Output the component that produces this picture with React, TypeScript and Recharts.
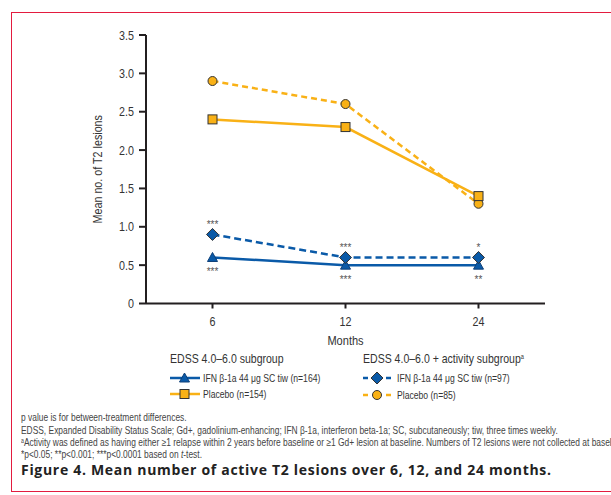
import React from "react";
import { LineChart, Line, XAxis, YAxis, LabelList, Label } from "recharts";

// ---- data ----
const months = ["6", "12", "24"];
const ifn164 = [0.6, 0.5, 0.5];
const placebo154 = [2.4, 2.3, 1.4];
const ifn97 = [0.9, 0.6, 0.6];
const placebo85 = [2.9, 2.6, 1.3];
const sigAbove = ["***", "***", "*"]; // above IFN (n=97)
const sigBelow = ["***", "***", "**"]; // below IFN (n=164)
const yTicks = [0, 0.5, 1, 1.5, 2, 2.5, 3, 3.5];

const data = months.map((m, i) => ({
  month: m,
  ifn164: ifn164[i],
  placebo154: placebo154[i],
  ifn97: ifn97[i],
  placebo85: placebo85[i],
  sigAbove: sigAbove[i],
  sigBelow: sigBelow[i],
}));

const ORANGE = "#f9b116";
const BLUE = "#0a5aa8";
const DARK = "#231f20";
const MSTROKE = "#333333";
const SANS = "'Liberation Sans', Arial, sans-serif";
const SQ = 0.82; // horizontal squeeze to mimic a condensed face

type Shape = "triangle" | "square" | "diamond" | "circle";

function Marker({ cx, cy, shape, color }: { cx: number; cy: number; shape: Shape; color: string }) {
  if (shape === "triangle") {
    return (
      <path
        d={`M${cx},${cy - 5} L${cx + 5},${cy + 4} L${cx - 5},${cy + 4} Z`}
        fill={color}
        stroke="#0d3f78"
        strokeWidth={1}
      />
    );
  }
  if (shape === "square") {
    return <rect x={cx - 4.5} y={cy - 4.5} width={9} height={9} fill={color} stroke={MSTROKE} strokeWidth={1} />;
  }
  if (shape === "diamond") {
    return (
      <path
        d={`M${cx},${cy - 6} L${cx + 6},${cy} L${cx},${cy + 6} L${cx - 6},${cy} Z`}
        fill={color}
        stroke={MSTROKE}
        strokeWidth={1}
      />
    );
  }
  return <circle cx={cx} cy={cy} r={4.5} fill={color} stroke={MSTROKE} strokeWidth={1} />;
}

const dotFor = (shape: Shape, color: string) => (props: any) => (
  <Marker key={`${shape}-${props.index}`} cx={props.cx} cy={props.cy} shape={shape} color={color} />
);

const sigLabel = (dir: "above" | "below") => (props: any) => {
  const { x, y, value, index } = props;
  if (value == null) return null;
  const yy = dir === "above" ? y - 12 + 6 : y + 12 + 6;
  return (
    <text key={`${dir}-${index}`} x={x} y={yy} textAnchor="middle" fontSize={10} fill="#555" fontFamily={SANS}>
      {value}
    </text>
  );
};

const YTick = (props: any) => {
  const { x, y, payload } = props;
  const v = payload.value as number;
  return (
    <g transform={`translate(${x},${y}) scale(${0.86},1)`}>
      <text x={0} y={0} dy="0.36em" textAnchor="end" fontSize={12.5} fill="#333" fontFamily={SANS}>
        {v === 0 ? "0" : v.toFixed(1)}
      </text>
    </g>
  );
};

const XTick = (props: any) => {
  const { x, y, payload } = props;
  return (
    <g transform={`translate(${x},${y}) scale(${0.86},1)`}>
      <text x={0} y={0} dy="0.71em" textAnchor="middle" fontSize={12.5} fill="#333" fontFamily={SANS}>
        {payload.value}
      </text>
    </g>
  );
};

function LegendIcon({ color, dashed, shape }: { color: string; dashed: boolean; shape: Shape }) {
  return (
    <svg width={30} height={14} style={{ position: "absolute", left: 0, top: 0, overflow: "visible" }}>
      {dashed ? (
        <>
          <line x1={0} y1={7} x2={5} y2={7} stroke={color} strokeWidth={2.5} />
          <line x1={23} y1={7} x2={28} y2={7} stroke={color} strokeWidth={2.5} />
        </>
      ) : (
        <line x1={0} y1={7} x2={30} y2={7} stroke={color} strokeWidth={2.5} />
      )}
      <Marker cx={dashed ? 14 : 14.5} cy={7} shape={shape} color={color} />
    </svg>
  );
}

function LegendRow({ left, top, color, dashed, shape, text, textOffset }: any) {
  return (
    <div style={{ position: "absolute", left, top }}>
      <LegendIcon color={color} dashed={dashed} shape={shape} />
      <div
        style={{
          position: "absolute",
          left: textOffset,
          top: 0,
          height: 14,
          lineHeight: "14px",
          whiteSpace: "nowrap",
          fontFamily: SANS,
          fontSize: 10.5,
          color: "#333",
          transform: `scaleX(${SQ})`,
          transformOrigin: "left center",
        }}
      >
        {text}
      </div>
    </div>
  );
}

const headerStyle: React.CSSProperties = {
  position: "absolute",
  whiteSpace: "nowrap",
  fontFamily: SANS,
  fontSize: 13,
  color: "#333",
  lineHeight: "16px",
  transform: "scaleX(0.81)",
  transformOrigin: "left center",
};

const noteStyle: React.CSSProperties = {
  position: "absolute",
  left: 21,
  whiteSpace: "nowrap",
  fontFamily: SANS,
  fontSize: 10.5,
  color: "#444",
  lineHeight: "12px",
  transform: "scaleX(0.80)",
  transformOrigin: "left center",
};

const supA = (size: number, lift: number) => (
  <span style={{ fontSize: size, position: "relative", top: -lift, lineHeight: 0 }}>a</span>
);

export default function App() {
  return (
    <div
      style={{
        position: "absolute",
        left: 0,
        top: 0,
        width: 611,
        height: 495,
        overflow: "hidden",
        background: "#fff",
      }}
    >
      <div
        style={{
          position: "absolute",
          left: 11,
          top: 12,
          width: 640,
          height: 478,
          border: "1.5px solid #e31b3f",
        }}
      />
      <div style={{ position: "absolute", left: 0, top: 0 }}>
        <LineChart
          width={611}
          height={360}
          data={data}
          margin={{ top: 35, right: 66, bottom: 6.5, left: 86 }}
        >
          <XAxis
            dataKey="month"
            height={50}
            padding={{ left: 66.5, right: 66.5 }}
            axisLine={{ stroke: DARK, strokeWidth: 2 }}
            tickLine={{ stroke: DARK, strokeWidth: 2 }}
            tickSize={5}
            tickMargin={9}
            tick={XTick}
          >
            <Label
              content={(p: any) => {
                const vb = p.viewBox;
                const cx = vb.x + vb.width / 2;
                const cy = vb.y + 41;
                return (
                  <g transform={`translate(${cx},${cy}) scale(0.85,1)`}>
                    <text x={0} y={0} textAnchor="middle" fontSize={13} fill="#333" fontFamily={SANS}>
                      Months
                    </text>
                  </g>
                );
              }}
            />
          </XAxis>
          <YAxis
            width={60}
            domain={[0, 3.5]}
            ticks={yTicks}
            interval={0}
            axisLine={{ stroke: DARK, strokeWidth: 2 }}
            tickLine={{ stroke: DARK, strokeWidth: 2 }}
            tickSize={7}
            tickMargin={5}
            tick={YTick}
          >
            <Label
              content={(p: any) => {
                const vb = p.viewBox;
                const cx = vb.x + 11;
                const cy = vb.y + vb.height / 2;
                return (
                  <g transform={`translate(${cx},${cy}) rotate(-90) scale(0.86,1)`}>
                    <text
                      x={0}
                      y={0}
                      dy="0.36em"
                      textAnchor="middle"
                      fontSize={12.5}
                      fill="#333"
                      fontFamily={SANS}
                    >
                      Mean no. of T2 lesions
                    </text>
                  </g>
                );
              }}
            />
          </YAxis>
          <Line
            dataKey="placebo85"
            stroke={ORANGE}
            strokeWidth={2.5}
            strokeDasharray="6 4"
            dot={dotFor("circle", ORANGE)}
            isAnimationActive={false}
          />
          <Line
            dataKey="placebo154"
            stroke={ORANGE}
            strokeWidth={2.5}
            dot={dotFor("square", ORANGE)}
            isAnimationActive={false}
          />
          <Line
            dataKey="ifn164"
            stroke={BLUE}
            strokeWidth={2.5}
            dot={dotFor("triangle", BLUE)}
            isAnimationActive={false}
          >
            <LabelList dataKey="sigBelow" content={sigLabel("below")} />
          </Line>
          <Line
            dataKey="ifn97"
            stroke={BLUE}
            strokeWidth={2.5}
            strokeDasharray="7 4"
            dot={dotFor("diamond", BLUE)}
            isAnimationActive={false}
          >
            <LabelList dataKey="sigAbove" content={sigLabel("above")} />
          </Line>
        </LineChart>
      </div>

      {/* Legend */}
      <div style={{ ...headerStyle, left: 170, top: 351 }}>EDSS 4.0–6.0 subgroup</div>
      <div style={{ ...headerStyle, left: 363, top: 351 }}>
        EDSS 4.0–6.0 + activity subgroup{supA(7, 4)}
      </div>
      <LegendRow left={170} top={371} color={BLUE} dashed={false} shape="triangle" text="IFN β-1a 44 μg SC tiw (n=164)" textOffset={33} />
      <LegendRow left={170} top={387} color={ORANGE} dashed={false} shape="square" text="Placebo (n=154)" textOffset={33} />
      <LegendRow left={363} top={371} color={BLUE} dashed={true} shape="diamond" text="IFN β-1a 44 μg SC tiw (n=97)" textOffset={34} />
      <LegendRow left={363} top={388} color={ORANGE} dashed={true} shape="circle" text="Placebo (n=85)" textOffset={34} />

      {/* Footnotes */}
      <div style={{ ...noteStyle, top: 411 }}>p value is for between-treatment differences.</div>
      <div style={{ ...noteStyle, top: 423.5 }}>
        EDSS, Expanded Disability Status Scale; Gd+, gadolinium-enhancing; IFN β-1a, interferon beta-1a; SC, subcutaneously; tiw, three times weekly.
      </div>
      <div style={{ ...noteStyle, top: 435.5 }}>
        {supA(6.5, 3)}Activity was defined as having either ≥1 relapse within 2 years before baseline or ≥1 Gd+ lesion at baseline. Numbers of T2 lesions were not collected at baseline.
      </div>
      <div style={{ ...noteStyle, top: 447.5 }}>
        *p&lt;0.05; **p&lt;0.001; ***p&lt;0.0001 based on <i>t</i>-test.
      </div>
      <div
        style={{
          position: "absolute",
          left: 21,
          top: 461,
          whiteSpace: "nowrap",
          fontFamily: "'Open Sans', 'Noto Sans', sans-serif",
          fontWeight: 700,
          fontSize: 14,
          letterSpacing: 0.7,
          color: "#222",
          lineHeight: "18px",
        }}
      >
        Figure 4. Mean number of active T2 lesions over 6, 12, and 24 months.
      </div>
    </div>
  );
}
